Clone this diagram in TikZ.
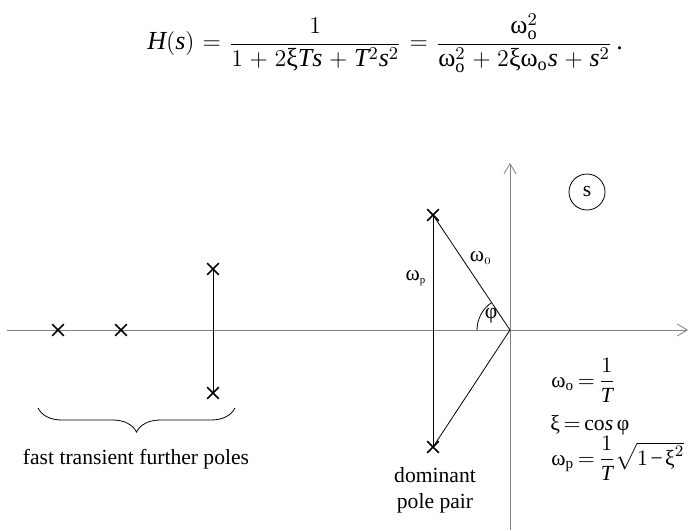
\documentclass[tikz,border=0pt]{standalone}
\usepackage{amsmath}
\usepackage{fontspec}
\setmainfont{Liberation Serif}
\usetikzlibrary{arrows.meta, decorations.pathreplacing, shapes.misc, positioning}

% maths letters, digits and signs from the text font
\DeclareSymbolFont{tmsit}{TU}{\rmdefault}{m}{it}
\DeclareSymbolFont{tmsrm}{TU}{\rmdefault}{m}{n}
\Umathcode`H=0 \symtmsit `H
\Umathcode`T=0 \symtmsit `T
\Umathcode`s=0 \symtmsit `s
\Umathcode`0=0 \symtmsrm `0
\Umathcode`1=0 \symtmsrm `1
\Umathcode`2=0 \symtmsrm `2
\Umathcode`+=2 \symtmsrm `+
\Umathcode`-=2 \symtmsrm "2212
\Umathcode`==3 \symtmsrm `=
\Umathcode`(=4 \symtmsrm `(
\Umathcode`)=5 \symtmsrm `)

% upright greek letters taken from the text font
\newcommand{\gom}{\text{ω}}
\newcommand{\gxi}{\text{ξ}}
\newcommand{\gphi}{\text{φ}}

\begin{document}
\begin{tikzpicture}[
    x=0.5pt, y=-0.5pt, % one unit = one pixel of the sketch
    axis/.style={->, >={Straight Barb[length=5pt, width=6pt]}, gray, thin},
    pole/.style={cross out, draw, thick, minimum size=5pt, inner sep=0pt},
    link/.style={black, thin},
    lbl/.style={font=\fontsize{10.8}{13}\selectfont, inner sep=1pt},
    rel/.style={lbl, anchor=base west, inner sep=0pt,
                execute at begin node={\thickmuskip=3mu\medmuskip=2mu}},
    sbrace/.style={decorate, decoration={brace, mirror, amplitude=12pt}, thin}
]
\useasboundingbox (0,0) rectangle (689,530);

% Transfer function
\node[font=\fontsize{13}{15}\selectfont, anchor=west, inner sep=0pt,
      execute at begin node={\thickmuskip=6mu\medmuskip=5mu}] (hs) at (147,43)
  {$H(s)=\dfrac{1}{1+2\gxi Ts+T^2s^2}=\dfrac{\gom_\mathrm{o}^2}{\gom_\mathrm{o}^2+2\gxi\gom_\mathrm{o}s+s^2}\,\text{.}$};

% Axes
\coordinate (O) at (510,330);
\coordinate (xl) at (7,330);
\coordinate (xr) at (688,330);
\coordinate (yb) at (510,530);
\coordinate (yt) at (510,163);
\draw[axis] (xl) -- (xr);
\draw[axis] (yb) -- (yt);

% Poles
\node[pole] (d1) at (433,215) {};
\node[pole] (d2) at (433,447) {};
\node[pole] (f1) at (58,330) {};
\node[pole] (f2) at (121,330) {};
\node[pole] (c1) at (213,269) {};
\node[pole] (c2) at (213,393) {};

\draw[link] (d1.center) -- (d2.center);
\draw[link] (d1.center) -- (O) -- (d2.center);
\draw[link] (c1.center) -- (c2.center);

% Angle
\draw[link] (O) ++(180:33) arc[start angle=180, end angle=236, radius=33];

% Labels
\node[lbl] (wo) at (481,258) {$\gom_{\scriptscriptstyle 0}$};
\node[lbl] (wp) at (416,278) {$\gom_{\scriptscriptstyle\mathrm{p}}$};
\node[lbl] (phi) at (491,316) {\gphi};
\node[lbl, circle, draw, thin, minimum size=18pt] (splane) at (587,192) {s};

% Brace for the far poles
\coordinate (bl) at (38,408);
\coordinate (br) at (235,408);
\draw[sbrace] (bl) -- (br);
\node[lbl] (far) at (136,459) {fast transient further poles};
\node[lbl, align=center] (dom) at (435,490) {dominant\\pole pair};

% Relations
\node[rel] (eq1) at (551,387) {$\gom_\mathrm{o}=\dfrac{1}{T}$};
\node[rel] (eq2) at (550,430) {$\gxi=\cos\gphi$};
\node[rel] (eq3) at (551,465) {$\gom_\mathrm{p}=\dfrac{1}{T}\sqrt{1-\gxi^2}$};
\end{tikzpicture}
\end{document}
